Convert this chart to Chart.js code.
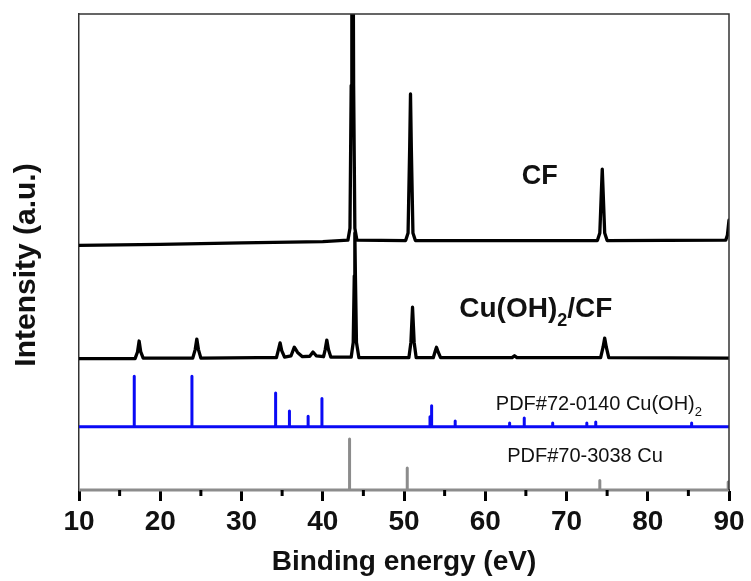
<!DOCTYPE html>
<html>
<head>
<meta charset="utf-8">
<title>XRD patterns</title>
<script src="https://cdn.jsdelivr.net/npm/chart.js@4.4.0/dist/chart.umd.min.js"></script>
<style>
  html, body { margin: 0; padding: 0; background: #fff; }
</style>
</head>
<body>
<canvas id="xrd_chart" width="751" height="581"></canvas>
<script>
// x = binding energy (eV), y = intensity in plot units (0 is the bottom axis, 100 the top)
const cfPattern = [
  [10, 51.4], [20, 51.6], [30, 51.9], [40, 52.2], [43.1, 52.5], [43.35, 55], [43.5, 85],
  [43.58, 125], [43.72, 125], [43.8, 85], [43.95, 55], [44.2, 52.5], [50.2, 52.4], [50.5, 54],
  [50.7, 72], [50.8, 83.2], [50.9, 72], [51.1, 54], [51.4, 52.4], [62, 52.4], [73.8, 52.4],
  [74.1, 54], [74.3, 63], [74.4, 67.4], [74.5, 63], [74.7, 54], [75.0, 52.4], [89.6, 52.5],
  [89.8, 53.5], [90, 56.7],
]

const cuohCfPattern = [
  [10, 27.6], [16.9, 27.6], [17.2, 29], [17.4, 31.3], [17.6, 29], [17.9, 27.7], [24.0, 27.7],
  [24.3, 29.5], [24.5, 31.7], [24.7, 29.5], [25.0, 27.7], [32, 27.8], [34.3, 27.8], [34.55, 29.5],
  [34.75, 30.9], [34.95, 29.3], [35.3, 27.9], [36.1, 28.2], [36.5, 30.0], [36.9, 28.9], [37.5, 28.0],
  [38.4, 28.1], [38.8, 29.0], [39.2, 28.2], [40.1, 28.0], [40.3, 29.5], [40.5, 31.5], [40.7, 29.5],
  [41.0, 27.9], [43.5, 27.9], [43.75, 31], [43.88, 45], [43.95, 54], [44.02, 45], [44.15, 31],
  [44.45, 27.8], [50.6, 27.8], [50.85, 31], [51.05, 38.4], [51.25, 31], [51.5, 27.8], [53.6, 27.8],
  [53.85, 29.2], [54.0, 30.0], [54.2, 29.0], [54.5, 27.8], [63.3, 27.8], [63.6, 28.2], [63.9, 27.8],
  [74.2, 27.8], [74.5, 30], [74.7, 31.9], [74.9, 30], [75.2, 27.8], [90, 27.7],
]

// PDF#72-0140 Cu(OH)2 reference sticks
const cuohRefPos = [16.8, 23.9, 34.2, 35.9, 38.2, 39.9, 53.2, 53.4, 56.3, 63.0, 64.8, 68.3, 72.5, 73.6, 85.4]
const cuohRefTop = [23.9, 23.9, 20.4, 16.6, 15.5, 19.2, 15.4, 17.7, 14.5, 14.1, 15.1, 14.1, 14.1, 14.3, 14.1]
const cuohRefBase = 13.3

// PDF#70-3038 Cu reference sticks
const cuRefPos = [43.3, 50.4, 74.1, 89.9]
const cuRefTop = [10.7, 4.6, 2.0, 1.7]
const cuRefBase = 0

const xMajorTicks = [10, 20, 30, 40, 50, 60, 70, 80, 90]
const xMinorTicks = [15, 25, 35, 45, 55, 65, 75, 85]

// text placed inside the plot (data units)
const plotLabels = [
  { parts: [['CF', 0]], x: 66.7, y: 64.3, align: 'center', weight: 'bold', size: 27 },
  { parts: [['Cu(OH)', 0], ['2', 1], ['/CF', 0]], x: 56.8, y: 36.3, align: 'left', weight: 'bold', size: 28 },
  { parts: [['PDF#72-0140 Cu(OH)', 0], ['2', 1]], x: 61.3, y: 16.8, align: 'left', weight: 'normal', size: 20 },
  { parts: [['PDF#70-3038 Cu', 0]], x: 62.7, y: 5.9, align: 'left', weight: 'normal', size: 20 },
]

const FONT = "'Liberation Sans', Arial, sans-serif"

const sticks = (pos, top, base) => {
  const pts = [[10, base]]
  pos.forEach((p, i) => {
    pts.push([p, base], [p, top[i]], [p, base])
  })
  pts.push([90, base])
  return pts
}

const extrasPlugin = {
  id: 'extras',
  afterDatasetsDraw(chart) {
    const { ctx, chartArea, scales } = chart
    const x = scales.x
    const y = scales.y
    ctx.save()
    // top and right frame
    ctx.strokeStyle = '#333'
    ctx.lineWidth = 1.5
    ctx.beginPath()
    ctx.moveTo(chartArea.left, chartArea.top)
    ctx.lineTo(chartArea.right, chartArea.top)
    ctx.lineTo(chartArea.right, chartArea.bottom)
    ctx.stroke()
    // minor ticks
    ctx.strokeStyle = '#000'
    ctx.lineWidth = 3
    xMinorTicks.forEach((v) => {
      const px = x.getPixelForValue(v)
      ctx.beginPath()
      ctx.moveTo(px, chartArea.bottom)
      ctx.lineTo(px, chartArea.bottom + 6)
      ctx.stroke()
    })
    // y axis title
    ctx.save()
    ctx.translate(27, (chartArea.top + chartArea.bottom) / 2 + 13)
    ctx.rotate(-Math.PI / 2)
    ctx.font = 'bold 30px ' + FONT
    ctx.fillStyle = '#111'
    ctx.textAlign = 'center'
    ctx.textBaseline = 'middle'
    ctx.fillText('Intensity (a.u.)', 0, 0)
    ctx.restore()
    // labels inside plot
    ctx.fillStyle = '#111'
    ctx.textBaseline = 'alphabetic'
    plotLabels.forEach((lab) => {
      const main = lab.weight + ' ' + lab.size + 'px ' + FONT
      const sub = lab.weight + ' ' + Math.round(lab.size * 0.65) + 'px ' + FONT
      let total = 0
      lab.parts.forEach(([t, s]) => {
        ctx.font = s ? sub : main
        total += ctx.measureText(t).width
      })
      let px = x.getPixelForValue(lab.x)
      if (lab.align === 'center') px -= total / 2
      const py = y.getPixelForValue(lab.y)
      ctx.textAlign = 'left'
      lab.parts.forEach(([t, s]) => {
        ctx.font = s ? sub : main
        ctx.fillText(t, px, s ? py + lab.size * 0.3 : py)
        px += ctx.measureText(t).width
      })
    })
    ctx.restore()
  },
}

const lineStyle = (color, width) => ({
  borderColor: color,
  borderWidth: width,
  pointRadius: 0,
  tension: 0,
  borderJoinStyle: 'round',
  borderCapStyle: 'round',
})

new Chart(document.getElementById('xrd_chart').getContext('2d'), {
  type: 'line',
  data: {
    datasets: [
      { label: 'PDF#70-3038 Cu', data: sticks(cuRefPos, cuRefTop, cuRefBase), ...lineStyle('#8c8c8c', 3), clip: { left: 0, top: 0, right: 0, bottom: 4 } },
      { label: 'PDF#72-0140 Cu(OH)2', data: sticks(cuohRefPos, cuohRefTop, cuohRefBase), ...lineStyle('#0a0af5', 3) },
      { label: 'Cu(OH)2/CF', data: cuohCfPattern, ...lineStyle('#000', 3.3) },
      { label: 'CF', data: cfPattern, ...lineStyle('#000', 3.3) },
    ],
  },
  options: {
    responsive: false,
    animation: false,
    layout: { padding: { left: 0, right: 22, top: 14, bottom: 0 } },
    plugins: {
      legend: { display: false },
      tooltip: { enabled: false },
    },
    scales: {
      x: {
        type: 'linear',
        min: 10,
        max: 90,
        afterFit: (scale) => { scale.height = 91 },
        afterBuildTicks: (scale) => { scale.ticks = xMajorTicks.map((v) => ({ value: v })) },
        grid: {
          drawOnChartArea: false,
          tickLength: 11,
          tickWidth: 3,
          tickColor: '#000',
        },
        border: { color: '#222', width: 2 },
        ticks: {
          color: '#111',
          padding: 4,
          maxRotation: 0,
          font: { family: FONT, size: 28, weight: 'bold' },
        },
        title: {
          display: true,
          text: 'Binding energy (eV)',
          color: '#111',
          padding: { top: 0, bottom: 2 },
          font: { family: FONT, size: 28, weight: 'bold' },
        },
      },
      y: {
        min: 0,
        max: 100,
        afterFit: (scale) => { scale.width = 79 },
        grid: { display: false },
        border: { color: '#333', width: 1.5 },
        ticks: { display: false },
        title: { display: false },
      },
    },
  },
  plugins: [extrasPlugin],
})
</script>
</body>
</html>
